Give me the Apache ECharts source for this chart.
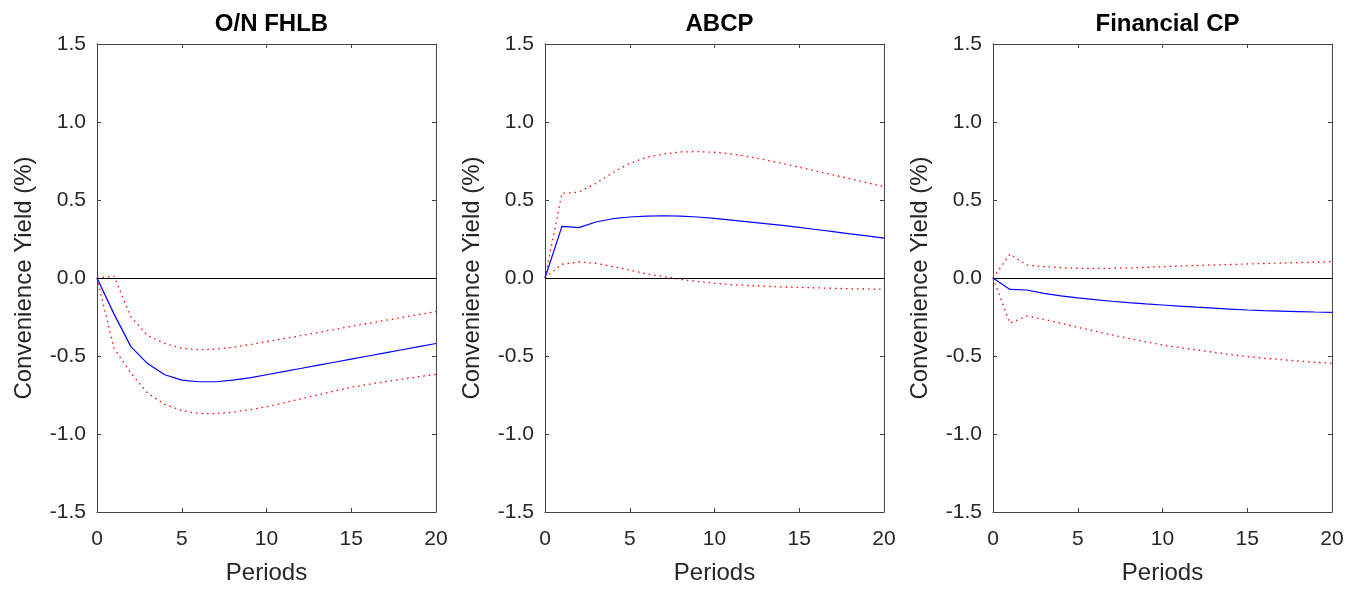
<!DOCTYPE html>
<html><head><meta charset="utf-8">
<script src="https://cdn.jsdelivr.net/npm/echarts@6/dist/echarts.min.js"></script>
<style>html,body{margin:0;padding:0;background:#fff}#c{width:1352px;height:590px}</style>
</head><body><div id="c"></div>
<script>
const periods = [0,1,2,3,4,5,6,7,8,9,10,11,12,13,14,15,16,17,18,19,20];
const titles = ['O/N FHLB', 'ABCP', 'Financial CP'];
const yTicks = [-1.5, -1.0, -0.5, 0.0, 0.5, 1.0, 1.5];
const xTicks = [0, 5, 10, 15, 20];

const fhlbMid   = [0,-0.23,-0.44,-0.55,-0.62,-0.655,-0.665,-0.665,-0.655,-0.64,-0.62,-0.60,-0.58,-0.56,-0.54,-0.52,-0.50,-0.48,-0.46,-0.44,-0.42];
const fhlbUpper = [0,0.012,-0.25,-0.37,-0.42,-0.45,-0.46,-0.456,-0.444,-0.427,-0.408,-0.389,-0.370,-0.350,-0.330,-0.310,-0.291,-0.272,-0.253,-0.234,-0.216];
const fhlbLower = [0,-0.45,-0.61,-0.74,-0.81,-0.85,-0.868,-0.87,-0.86,-0.845,-0.825,-0.80,-0.775,-0.75,-0.725,-0.70,-0.682,-0.665,-0.648,-0.632,-0.617];

const abcpMid   = [0,0.331,0.323,0.359,0.38,0.391,0.397,0.399,0.397,0.391,0.382,0.371,0.360,0.348,0.337,0.325,0.311,0.297,0.283,0.270,0.256];
const abcpUpper = [0,0.543,0.55,0.607,0.675,0.735,0.774,0.795,0.808,0.81,0.806,0.795,0.778,0.757,0.735,0.71,0.686,0.661,0.636,0.611,0.585];
const abcpLower = [0,0.088,0.103,0.094,0.073,0.051,0.026,0.009,-0.009,-0.022,-0.034,-0.042,-0.048,-0.053,-0.057,-0.06,-0.063,-0.066,-0.069,-0.071,-0.073];

const fcpMid   = [0,-0.073,-0.077,-0.098,-0.114,-0.128,-0.139,-0.149,-0.158,-0.166,-0.173,-0.180,-0.187,-0.193,-0.199,-0.205,-0.209,-0.212,-0.215,-0.218,-0.22];
const fcpUpper = [0,0.154,0.083,0.073,0.067,0.062,0.061,0.062,0.064,0.068,0.073,0.076,0.080,0.083,0.087,0.09,0.093,0.096,0.099,0.102,0.105];
const fcpLower = [0,-0.29,-0.244,-0.265,-0.29,-0.316,-0.34,-0.364,-0.387,-0.409,-0.43,-0.446,-0.461,-0.476,-0.49,-0.504,-0.514,-0.523,-0.532,-0.54,-0.547];

const panels = [
  {title: titles[0], mid: fhlbMid, upper: fhlbUpper, lower: fhlbLower},
  {title: titles[1], mid: abcpMid, upper: abcpUpper, lower: abcpLower},
  {title: titles[2], mid: fcpMid, upper: fcpUpper, lower: fcpLower}
];

const lefts = [97, 545, 993];
const W = 339, TOP = 44, H = 468;
const FONT = 'Liberation Sans, Arial, sans-serif';
const AX = '#444';
const TXT = '#262626';

const option = {
  animation: false,
  backgroundColor: '#fff',
  title: [], grid: [], xAxis: [], yAxis: [], series: []
};

panels.forEach((p, i) => {
  option.title.push({
    text: p.title, left: lefts[i] + W / 2, top: 7, textAlign: 'center',
    textStyle: {fontFamily: FONT, fontSize: 24, fontWeight: 'bold', color: '#000'}
  });
  option.grid.push({left: lefts[i], top: TOP, width: W, height: H, containLabel: false});
  const xBase = {
    type: 'value', min: 0, max: 20, interval: 5, gridIndex: i,
    splitLine: {show: false},
    axisLine: {show: true, onZero: false, lineStyle: {color: AX, width: 1}},
    axisTick: {show: true, inside: true, length: 4, lineStyle: {color: AX}}
  };
  option.xAxis.push(Object.assign({}, xBase, {
    position: 'bottom',
    name: 'Periods', nameLocation: 'middle', nameGap: 49,
    nameTextStyle: {fontFamily: FONT, fontSize: 24, color: TXT},
    axisLabel: {fontFamily: FONT, fontSize: 21, color: TXT, margin: 17}
  }));
  option.xAxis.push(Object.assign({}, xBase, {position: 'top', axisLabel: {show: false}}));
  const yBase = {
    type: 'value', min: -1.5, max: 1.5, interval: 0.5, gridIndex: i,
    splitLine: {show: false},
    axisLine: {show: true, onZero: false, lineStyle: {color: AX, width: 1}},
    axisTick: {show: true, inside: true, length: 4, lineStyle: {color: AX}}
  };
  option.yAxis.push(Object.assign({}, yBase, {
    position: 'left',
    name: 'Convenience Yield (%)', nameLocation: 'middle', nameGap: 61,
    nameTextStyle: {fontFamily: FONT, fontSize: 24, color: TXT},
    axisLabel: {fontFamily: FONT, fontSize: 21, color: TXT, margin: 11,
      formatter: v => yTicks.indexOf(v) >= 0 ? v.toFixed(1) : ''}
  }));
  option.yAxis.push(Object.assign({}, yBase, {position: 'right', axisLabel: {show: false}}));

  const xi = i * 2, yi = i * 2;
  const mk = (arr) => periods.map((x, k) => [x, arr[k]]);
  option.series.push({
    type: 'line', xAxisIndex: xi, yAxisIndex: yi, data: mk(p.mid), symbol: 'none',
    lineStyle: {color: '#0000ff', width: 1.2}, z: 5,
    markLine: {silent: true, symbol: 'none', label: {show: false},
      lineStyle: {color: '#000', width: 1.2, type: 'solid'}, data: [{yAxis: 0}]}
  });
  option.series.push({
    type: 'line', xAxisIndex: xi, yAxisIndex: yi, data: mk(p.upper), symbol: 'none',
    lineStyle: {color: '#ff0000', width: 1.3, type: [1.5, 4]}, z: 4
  });
  option.series.push({
    type: 'line', xAxisIndex: xi, yAxisIndex: yi, data: mk(p.lower), symbol: 'none',
    lineStyle: {color: '#ff0000', width: 1.3, type: [1.5, 4]}, z: 4
  });
});

const chart = echarts.init(document.getElementById('c'), null, {renderer: 'canvas'});
chart.setOption(option);
</script>
</body></html>
